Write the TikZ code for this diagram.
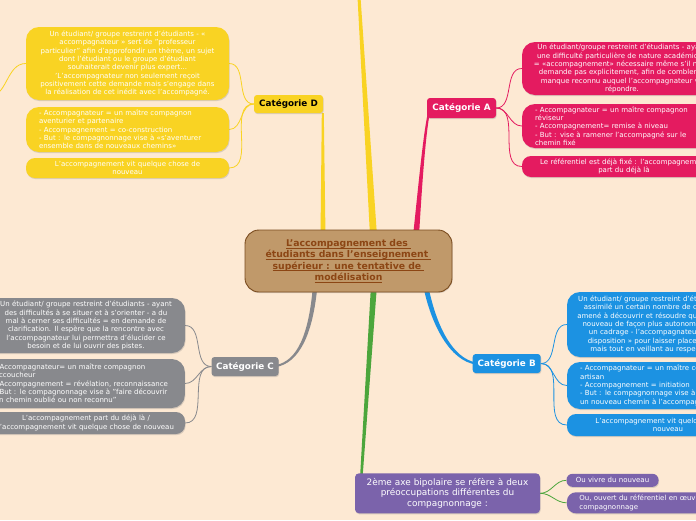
\documentclass[tikz,border=0pt]{standalone}
\usepackage{fontspec}
\setmainfont{DejaVu Sans}
\usetikzlibrary{shadows}
\definecolor{bgc}{RGB}{253,233,211}
\definecolor{ylw}{RGB}{249,211,35}
\definecolor{pnk}{RGB}{228,27,96}
\definecolor{gry}{RGB}{136,137,141}
\definecolor{blu}{RGB}{28,146,226}
\definecolor{prp}{RGB}{123,99,171}
\definecolor{grn}{RGB}{76,166,60}
\definecolor{tanc}{RGB}{192,153,106}
\definecolor{brn}{RGB}{122,75,30}
\definecolor{ttl}{RGB}{140,70,20}
\newcommand\myul[1]{\leavevmode{\setbox0\hbox{#1}\rlap{\rule[-1.8pt]{\wd0}{0.7pt}}\box0}}
\pgfdeclarelayer{bg}
\pgfdeclarelayer{lines}
\pgfsetlayers{bg,lines,main}
\begin{document}
\begin{tikzpicture}[x=1pt,y=-1pt,
  shad/.style={drop shadow={opacity=0.28,shadow xshift=0.6pt,shadow yshift=-1.1pt}},
  cat/.style={shad, rounded corners=3pt, inner sep=0pt, minimum width=69pt, minimum height=19pt,
    font=\fontsize{8.8}{10}\selectfont\bfseries, text=white},
  kid/.style={shad, inner xsep=5pt, inner ysep=0pt, font=\fontsize{7}{8.3}\selectfont,
    text=white, align=center},
  kidl/.style={kid, inner xsep=13pt, align=left},
  link/.style={line width=0.8pt},
]
\useasboundingbox (0,0) rectangle (696,520);
\begin{pgfonlayer}{bg}
\fill[bgc] (0,0) rectangle (696,520);
\end{pgfonlayer}

% centre
\node[shad, fill=tanc, draw=brn, line width=0.9pt, rounded corners=14pt, minimum width=207pt,
  minimum height=62pt, text width=197pt, inner sep=0pt, align=center,
  font=\fontsize{9.3}{11.3}\selectfont\bfseries, text=ttl] (ctr) at (348.5,261)
  {\myul{L’accompagnement des }\\\myul{étudiants dans l’enseignement }\\\myul{supérieur : une tentative de }\\\myul{modélisation}};

% categories
\node[cat, fill=ylw, text=black, minimum height=18pt] (catD) at (288.5,104) {Catégorie D};
\node[cat, fill=pnk, minimum height=20pt] (catA) at (461.5,108) {Catégorie A};
\node[cat, fill=blu, minimum width=68pt] (catB) at (506.7,363.5) {Catégorie B};
\node[cat, fill=gry, minimum width=67pt] (catC) at (245,366.5) {Catégorie C};

% D children
\node[kid, fill=ylw, rounded corners=13pt, minimum width=203pt, minimum height=73pt, text width=193pt] (d1) at (127.5,63.5)
 {Un étudiant/ groupe restreint d'étudiants - «\\accompagnateur » sert de "professeur\\particulier" afin d'approfondir un thème, un sujet\\dont l'étudiant ou le groupe d'étudiant\\souhaiterait devenir plus expert...\\'L'accompagnateur non seulement reçoit\\positivement cette demande mais s'engage dans\\la réalisation de cet inédit avec l'accompagné.};
\node[kidl, fill=ylw, rounded corners=13pt, minimum width=203pt, minimum height=45pt, text width=177pt] (d2) at (127.5,129.5)
 {- Accompagnateur = un maître compagnon\\aventurier et partenaire\\- Accompagnement = co-construction\\- But : le compagnonnage vise à «s'aventurer\\ensemble dans de nouveaux chemins»};
\node[kid, fill=ylw, rounded corners=9pt, minimum width=203pt, minimum height=20pt, text width=193pt] (d3) at (127.5,168)
 {L'accompagnement vit quelque chose de\\nouveau};
\coordinate (dleft) at (-12,97);

% A children
\node[kid, fill=pnk, rounded corners=13pt, minimum width=200pt, minimum height=53pt, text width=190pt] (a1) at (622,68.5)
 {Un étudiant/groupe restreint d'étudiants -  ayant\\une difficulté particulière de nature académique\\= «accompagnement» nécessaire même s'il ne le\\demande pas explicitement, afin de combler le\\manque reconnu auquel l'accompagnateur va\\répondre.};
\node[kidl, fill=pnk, rounded corners=13pt, minimum width=200pt, minimum height=44pt, text width=174pt] (a2) at (622,126)
 {- Accompagnateur = un maître compagnon\\réviseur\\- Accompagnement= remise à niveau\\- But : vise à ramener l'accompagné sur le\\chemin fixé};
\node[kid, fill=pnk, rounded corners=9pt, minimum width=204pt, minimum height=21pt, text width=194pt] (a3) at (624,166.5)
 {Le référentiel est déjà fixé : l'accompagnement\\part du déjà là};

% B children
\node[kid, fill=blu, rounded corners=13pt, minimum width=194pt, minimum height=65pt, text width=184pt] (b1) at (664,324.5)
 {Un étudiant/ groupe restreint d'étudiants - ayant\\assimilé un certain nombre de connaissances\\amené à découvrir et résoudre quelque chose de\\nouveau de façon plus autonome. Il demande\\un cadrage - l'accompagnateur se « met à\\disposition » pour laisser place à l'initiative\\mais tout en veillant au respect du cadre.};
\node[kidl, fill=blu, rounded corners=13pt, minimum width=230pt, minimum height=47pt, text width=204pt] (b2) at (682,385.5)
 {- Accompagnateur = un maître compagnon\\artisan\\- Accompagnement = initiation\\- But : le compagnonnage vise à faire découvrir\\un nouveau chemin à l'accompagné};
\node[kid, fill=blu, rounded corners=9pt, minimum width=202pt, minimum height=22pt, text width=192pt] (b3) at (668,425)
 {L'accompagnement vit quelque chose de\\nouveau};

% C children
\node[kid, fill=gry, rounded corners=13pt, minimum width=198pt, minimum height=55pt, text width=188pt] (c1) at (86,325.5)
 {Un étudiant/ groupe restreint d'étudiants - ayant\\des difficultés à se situer et à s'orienter - a du\\mal à cerner ses difficultés = en demande de\\clarification. Il espère que la rencontre avec\\l'accompagnateur lui permettra d'élucider ce\\besoin et de lui ouvrir des pistes.};
\node[kidl, inner xsep=10pt, fill=gry, rounded corners=13pt, minimum width=200pt, minimum height=49pt, text width=180pt, anchor=east] (c2) at (185,383.5)
 {- Accompagnateur= un maître compagnon\\accoucheur\\- Accompagnement = révélation, reconnaissance\\- But : le compagnonnage vise à "faire découvrir\\un chemin oublié ou non reconnu"};
\node[kid, fill=gry, rounded corners=9pt, minimum width=198pt, minimum height=22pt, text width=188pt] (c3) at (86,423)
 {L'accompagnement part du déjà là /\\l'accompagnement vit quelque chose de nouveau};

% purple
\node[shad, fill=prp, rounded corners=4pt, minimum width=185pt, minimum height=40pt, text width=175pt, inner sep=0pt,
  align=center, text=white, font=\fontsize{8.9}{10.7}\selectfont] (pm) at (447.5,493.3)
 {2ème axe bipolaire se réfère à deux\\préoccupations différentes du\\compagnonnage :};
\node[kid, fill=prp, rounded corners=6pt, inner xsep=2pt, minimum width=92pt, minimum height=13pt, text width=88pt] (p1) at (612.5,480.3)
 {Ou vivre du nouveau};
\node[kidl, fill=prp, rounded corners=9pt, inner xsep=12.5pt, minimum width=200pt, minimum height=21pt, text width=175pt, anchor=west] (p2) at (566.7,502.8)
 {Ou, ouvert du référentiel en œuvre dans le\\compagnonnage};

\coordinate (topend) at (359,-3);

\begin{pgfonlayer}{lines}
% main branches (tapered)
\fill[ylw] (320.5,236) -- (321.8,113) -- (323.8,113) -- (325.5,236) -- cycle;
\fill[ylw] (370,236) -- ([xshift=-1.5pt]topend) -- ([xshift=1.5pt]topend) -- (377,236) -- cycle;
\fill[pnk] (413,236) .. controls (418.5,185) and (423,135) .. (428,112) -- (430,112) .. controls (425.5,135) and (422,185) .. (419,236) -- cycle;
\fill[gry] (313,285) .. controls (309,335) and (297,361) .. (276,365) -- (276,367) .. controls (299,363) and (313,335) .. (317.5,285) -- cycle;
\fill[grn] (371,285) -- (360,478) -- (362.5,478) -- (377,285) -- cycle;
\fill[blu] (423,285) .. controls (431,325) and (450,361) .. (476,364.5) -- (476,362.5) .. controls (452,358) and (436,325) .. (428,285) -- cycle;
% child links
\foreach \k in {d1,d2,d3} \draw[link, ylw] (catD.west) to[out=180,in=0] (\k.east);
\draw[link, ylw] (d1.west) to[out=180,in=0] (dleft);
\foreach \k in {a1,a2,a3} \draw[link, pnk] (catA.east) to[out=0,in=180] (\k.west);
\foreach \k in {b1,b2,b3} \draw[link, blu] (catB.east) to[out=0,in=180] (\k.west);
\foreach \k in {c1,c2,c3} \draw[link, gry] (catC.west) to[out=180,in=0] (\k.east);
\foreach \k in {p1,p2} \draw[link, grn] (pm.east) to[out=0,in=180] (\k.west);
\end{pgfonlayer}
\end{tikzpicture}
\end{document}
